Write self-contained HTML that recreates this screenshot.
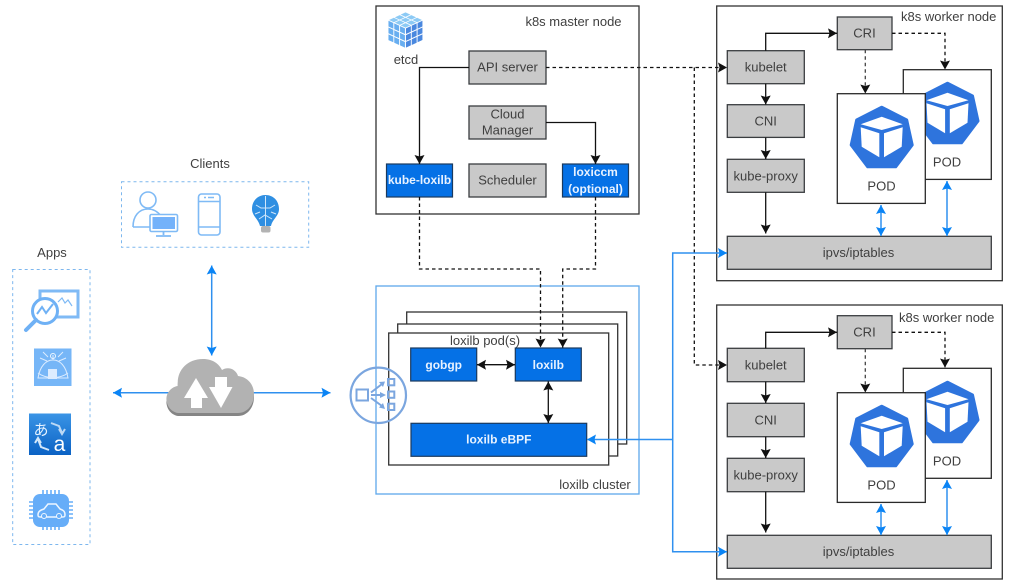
<!DOCTYPE html>
<html><head><meta charset="utf-8">
<style>
html,body{margin:0;padding:0;background:#fff;width:1011px;height:587px;overflow:hidden}
svg{display:block;filter:blur(.35px)}
text{font-family:"Liberation Sans","Noto Sans CJK JP",sans-serif;font-size:13px;fill:#3f3f3f;text-anchor:middle}
.g{fill:#c9c9c9;stroke:#3a3d40;stroke-width:1.3}
.b{fill:#0571e6;stroke:#1b3a5e;stroke-width:1.2}
.w{fill:#fff;stroke:#2a2a2a;stroke-width:1.3}
.n{fill:#fff;stroke:#333;stroke-width:1.3}
.wt{fill:#e8f2ff;font-weight:bold;font-size:12px}
.k{fill:none;stroke:#111;stroke-width:1.3}
.a{marker-end:url(#ak)}
.aa{marker-end:url(#ak);marker-start:url(#aks)}
.d{stroke-dasharray:3.500 3}
.bl{fill:none;stroke:#2f90ef;stroke-width:1.500}
.ba{marker-end:url(#ab)}
.baa{marker-end:url(#ab);marker-start:url(#abs)}
.ic{fill:none;stroke:#7fbaf5;stroke-width:1.6}
</style></head><body>
<svg width="1011" height="587" viewBox="0 0 1011 587" xmlns="http://www.w3.org/2000/svg">
<defs>
<marker id="ak" markerUnits="userSpaceOnUse" markerWidth="11" markerHeight="11" refX="9" refY="5" orient="auto"><path d="M9 5L0 10L1.500 5L0 0Z" fill="#111"/></marker>
<marker id="aks" markerUnits="userSpaceOnUse" markerWidth="11" markerHeight="11" refX="0" refY="5" orient="auto"><path d="M0 5L9 0L7.500 5L9 10Z" fill="#111"/></marker>
<marker id="ab" markerUnits="userSpaceOnUse" markerWidth="11" markerHeight="11" refX="9" refY="5" orient="auto"><path d="M9 5L0 10L1.500 5L0 0Z" fill="#0a84f5"/></marker>
<marker id="abs" markerUnits="userSpaceOnUse" markerWidth="11" markerHeight="11" refX="0" refY="5" orient="auto"><path d="M0 5L9 0L7.500 5L9 10Z" fill="#0a84f5"/></marker>
<g id="pod">
<path d="M0 3.200L25 16L30.500 41L14 62.800L-14 62.800L-30.500 41L-25 16Z" fill="#2e74dd" stroke="#2e74dd" stroke-width="3" stroke-linejoin="round"/>
<path d="M0 12.700L21 20.300L0 26L-21 20.300Z" fill="#fff"/>
<path d="M-21 23.300L-2.400 29.300V53.300L-20 42.700Z" fill="#fff"/>
<path d="M2.300 29.300L21 23.300L20 42.700L2.300 53.300Z" fill="#fff"/>
</g>
<g id="t">
<rect x=".08" y=".08" width=".84" height=".84"/><rect x="1.08" y=".08" width=".84" height=".84"/><rect x="2.08" y=".08" width=".84" height=".84"/>
<rect x=".08" y="1.08" width=".84" height=".84"/><rect x="1.08" y="1.08" width=".84" height=".84"/><rect x="2.08" y="1.08" width=".84" height=".84"/>
<rect x=".08" y="2.08" width=".84" height=".84"/><rect x="1.08" y="2.08" width=".84" height=".84"/><rect x="2.08" y="2.08" width=".84" height=".84"/>
</g>
<linearGradient id="tr" x1="0" y1="0" x2="0" y2="1"><stop offset="0" stop-color="#3a94e6"/><stop offset="1" stop-color="#0b62c4"/></linearGradient>
</defs>

<!-- Apps -->
<text x="52" y="257">Apps</text>
<rect x="12.700" y="269.500" width="77.300" height="275" fill="none" stroke="#7db7ee" stroke-dasharray="3 3"/>
<rect x="40" y="291" width="38" height="26" fill="#fff" stroke="#7fbaf5" stroke-width="3"/>
<circle cx="45" cy="311" r="12.500" fill="#fff" stroke="#6fb1f5" stroke-width="3"/>
<path d="M36 320L26 330" stroke="#6fb1f5" stroke-width="4" stroke-linecap="round"/>
<path d="M37 314L42 307L46 313L53 304" fill="none" stroke="#6fb1f5" stroke-width="2"/>
<path d="M58 302L62 298L65 303L68 300L72 306" fill="none" stroke="#7fbaf5" stroke-width="1.200"/>
<rect x="34" y="348.500" width="37.500" height="37.500" fill="#76b6f7"/>
<path d="M38 378C40 366 46 360 53 360C60 360 66 366 68 378Z" fill="none" stroke="#dcecff" stroke-width="1"/>
<path d="M38 373C46 379 60 379 68 373M53 360V355M40 358L47 361M66 358L59 361M43 352L48 357M63 352L58 357" fill="none" stroke="#dcecff" stroke-width="1"/>
<circle cx="53" cy="356" r="2.500" fill="none" stroke="#eef6ff"/>
<rect x="48" y="369" width="9" height="10" fill="#dcecff"/>
<rect x="29" y="413.500" width="42" height="41.500" fill="url(#tr)"/>
<text x="41" y="435" style="font-size:15px;fill:#e8f3ff">あ</text>
<text x="59.500" y="451" style="font-size:21px;fill:#fff">a</text>
<path d="M51 423L59 426L62 433M59 429L62 434L65 429" fill="none" stroke="#bcd9f5" stroke-width="2"/>
<path d="M49 450L41 447L38 439M35 443L38 438L41 443" fill="none" stroke="#d4e7fa" stroke-width="2"/>
<rect x="33" y="494" width="36" height="33" rx="7" fill="#66adf8"/>
<path d="M43 490V495M47 490V495M51 490V495M55 490V495M59 490V495M43 526V530M47 526V530M51 526V530M55 526V530M59 526V530M29 502H34M29 506H34M29 510H34M29 514H34M29 518H34M68 502H73M68 506H73M68 510H73M68 514H73M68 518H73" stroke="#66adf8" stroke-width="1.600"/>
<path d="M38 515C38 511 41 510 44 509L48 504H56L60 509C63 510 65 511 65 515C65 517 64 517 62 517H41C39 517 38 517 38 515Z" fill="none" stroke="#eef6ff" stroke-width="1.500"/>
<circle cx="44" cy="516" r="2.500" fill="#66adf8" stroke="#eef6ff"/><circle cx="59" cy="516" r="2.500" fill="#66adf8" stroke="#eef6ff"/>

<!-- Clients -->
<text x="210" y="168">Clients</text>
<rect x="121.500" y="181.800" width="187.200" height="65.500" fill="none" stroke="#7db7ee" stroke-dasharray="3 3"/>
<circle cx="148" cy="200" r="8" class="ic"/>
<path d="M133 227C133 216 139 209 148 209C154 209 158 212 161 216M133 227H150" class="ic"/>
<rect x="150" y="214.500" width="27.500" height="17" rx="1.500" fill="#fff" stroke="#7fbaf5" stroke-width="1.600"/>
<rect x="152.500" y="217" width="22.500" height="12" fill="#74b2fa"/>
<path d="M163.500 231.500V235M156 236H171" stroke="#7fbaf5" stroke-width="1.800"/>
<rect x="198.500" y="194" width="21.500" height="41" rx="3" class="ic"/>
<path d="M198.500 201.500H220M198.500 227H220" class="ic"/>
<path d="M204 197.500H206M208 197.500H214" stroke="#7fbaf5" stroke-width="1.500"/>
<path d="M265.500 195C257.500 195 252 201 252 209C252 216 258.500 219 260 226H271C272.500 219 279 216 279 209C279 201 273.500 195 265.500 195Z" fill="#2f8fe2"/>
<path d="M265.500 196V226M256 205L261 208H270L275 205M255 214L260 212M276 214L271 212M259 219L265 215L272 219" fill="none" stroke="#cfe6fb" stroke-width="1"/>
<rect x="261" y="226" width="9.500" height="6.500" rx="2" fill="#b3b3b3"/>

<!-- Cloud and arrows -->
<line x1="211.700" y1="265.500" x2="211.700" y2="355.500" class="bl baa"/>
<line x1="113" y1="392.700" x2="330.500" y2="392.700" class="bl baa"/>
<path transform="translate(0,3)" d="M178 413C168 411 165 401 167 395C169 389 175 386 178 386C176 372 186 359 203 359C213 359 219 364 222 370C228 366 236 369 238 376C248 377 254 385 254 394C254 405 247 413 238 413Z" fill="#858585"/>
<path d="M178 413C168 411 165 401 167 395C169 389 175 386 178 386C176 372 186 359 203 359C213 359 219 364 222 370C228 366 236 369 238 376C248 377 254 385 254 394C254 405 247 413 238 413Z" fill="#b2b2b2"/>
<path d="M196 378L208 398H202V408H191V398H184Z" fill="#fff"/>
<path d="M221 408L209 387H215V377H227V387H232.500Z" fill="#fff"/>

<!-- Master node -->
<rect x="376" y="6" width="263" height="208" class="n"/>
<text x="573.500" y="26">k8s master node</text>
<g transform="matrix(5.800,2.670,-5.800,2.670,405.500,12)" fill="#8ccaf5"><use href="#t"/></g>
<g transform="matrix(5.800,2.670,0,6.800,388,20)" fill="#68aef0"><use href="#t"/></g>
<g transform="matrix(5.800,-2.670,0,6.800,405.500,28)" fill="#4a88df"><use href="#t"/></g>
<text x="406" y="64">etcd</text>
<rect x="469" y="51" width="77" height="33" class="g"/><text x="507.500" y="71.500">API server</text>
<rect x="469" y="106" width="77" height="33" class="g"/><text x="507.500" y="118.500">Cloud</text><text x="507.500" y="134.500">Manager</text>
<rect x="469" y="164" width="77" height="33" class="g"/><text x="507.500" y="184.500">Scheduler</text>
<rect x="386.500" y="164" width="66" height="33" class="b"/><text x="419.500" y="184" class="wt">kube-loxilb</text>
<rect x="562.500" y="164" width="66" height="33" class="b"/><text x="595.500" y="176" class="wt">loxiccm</text><text x="595.500" y="193" class="wt">(optional)</text>
<path d="M469 67.500H419.500V164" class="k a"/>
<path d="M546 122.500H595.500V164" class="k a"/>

<!-- Cluster -->
<rect x="376" y="286" width="263" height="208" fill="#fff" stroke="#5ea8ec" stroke-width="1.300"/>
<text x="595" y="489">loxilb cluster</text>
<rect x="406.700" y="312" width="220" height="132" class="n"/>
<rect x="397.700" y="324" width="220" height="132" class="n"/>
<rect x="388.700" y="333" width="220" height="132" class="n"/>
<text x="485" y="345">loxilb pod(s)</text>
<rect x="410.700" y="348" width="66" height="33" class="b"/><text x="443.700" y="369" class="wt">gobgp</text>
<rect x="515.300" y="348" width="66" height="33" class="b"/><text x="548.300" y="369" class="wt">loxilb</text>
<rect x="411" y="423.300" width="175.700" height="33" class="b"/><text x="498.800" y="443.500" class="wt">loxilb eBPF</text>
<line x1="477" y1="364.700" x2="515" y2="364.700" class="k aa"/>
<line x1="548.300" y1="381.500" x2="548.300" y2="423" class="k aa"/>
<!-- LB icon -->
<circle cx="378.300" cy="395.300" r="27.700" fill="none" stroke="#7ba6df" stroke-width="2.200"/>
<g fill="none" stroke="#7ba6df" stroke-width="2">
<rect x="356.500" y="389.500" width="11.500" height="11"/>
<rect x="388" y="379" width="6.300" height="6.300"/><rect x="388" y="391.500" width="6.300" height="6.300"/><rect x="388" y="403.700" width="6.300" height="6.300"/>
<path d="M371 392.500L382 384M371 395H382M371 398L382 406"/>
</g>
<path d="M385 381.500L383 387L379 382ZM386 395L380 392V398ZM385 409L379 407.500L383 403Z" fill="#7ba6df"/>

<!-- Worker 1 -->
<rect x="716.700" y="6" width="285.600" height="274.700" class="n"/>
<text x="948.700" y="21">k8s worker node</text>
<rect x="903.300" y="69.700" width="88" height="109.700" class="w"/>
<use href="#pod" x="947.500" y="80"/>
<text x="947" y="166.500">POD</text>
<rect x="837.300" y="93.700" width="88" height="109.700" class="w"/>
<use href="#pod" x="881.700" y="104"/>
<text x="881.500" y="190.500">POD</text>
<rect x="837.300" y="17" width="54.700" height="32.700" class="g"/><text x="864.500" y="37.500">CRI</text>
<rect x="727.300" y="50.700" width="77" height="33" class="g"/><text x="765.700" y="71.500">kubelet</text>
<rect x="727.300" y="104.700" width="77" height="32.700" class="g"/><text x="765.700" y="125.500">CNI</text>
<rect x="727.300" y="159.300" width="77" height="33" class="g"/><text x="765.700" y="180.500">kube-proxy</text>
<rect x="727.300" y="236.300" width="264" height="33" class="g"/><text x="858.500" y="257">ipvs/iptables</text>
<path d="M765.700 50.700V33.300H837" class="k a"/>
<path d="M765.700 83.700V104.500" class="k a"/>
<path d="M765.700 137.500V159" class="k a"/>
<path d="M765.700 192.300V233.500" class="k a"/>
<path d="M892 33.300H945V69.500" class="k d a"/>
<path d="M865.300 49.700V93.500" class="k d a" style="stroke:#444"/>
<line x1="881" y1="205" x2="881" y2="236" class="bl baa"/>
<line x1="947" y1="181" x2="947" y2="236" class="bl baa"/>

<!-- Worker 2 -->
<rect x="716.700" y="305" width="285.600" height="274" class="n"/>
<text x="946.700" y="322">k8s worker node</text>
<rect x="903.300" y="368.300" width="88" height="110" class="w"/>
<use href="#pod" x="947.500" y="379"/>
<text x="947" y="465.500">POD</text>
<rect x="837.300" y="392.700" width="88" height="109.700" class="w"/>
<use href="#pod" x="881.700" y="403"/>
<text x="881.500" y="489.500">POD</text>
<rect x="837.300" y="315.700" width="54.700" height="33" class="g"/><text x="864.500" y="336.500">CRI</text>
<rect x="727.300" y="348.300" width="77" height="33.400" class="g"/><text x="765.700" y="369.500">kubelet</text>
<rect x="727.300" y="403.300" width="77" height="33.400" class="g"/><text x="765.700" y="424.500">CNI</text>
<rect x="727.300" y="458.300" width="77" height="33.400" class="g"/><text x="765.700" y="479.500">kube-proxy</text>
<rect x="727.300" y="535.300" width="264" height="33" class="g"/><text x="858.500" y="556">ipvs/iptables</text>
<path d="M765.700 348.300V332.300H837" class="k a"/>
<path d="M765.700 381.700V403" class="k a"/>
<path d="M765.700 436.700V458" class="k a"/>
<path d="M765.700 491.700V532.500" class="k a"/>
<path d="M892 332.300H945V367.500" class="k d a"/>
<path d="M865.300 348.700V392.500" class="k d a" style="stroke:#444"/>
<line x1="881" y1="504" x2="881" y2="535" class="bl baa"/>
<line x1="947" y1="480" x2="947" y2="535" class="bl baa"/>

<!-- Dashed connectors -->
<path d="M419.500 197V269H540.500V347.500" class="k d a"/>
<path d="M595.500 197V269H562.700V347.500" class="k d a"/>
<path d="M546 67.500H727" class="k d a"/>
<path d="M694.300 67.500V365H727" class="k d a"/>

<!-- Blue connectors -->
<path d="M672.700 439.500V253H727" class="bl ba"/>
<path d="M672.700 439.500V551.700H727" class="bl ba"/>
<path d="M672.700 439.500H587" class="bl ba"/>
</svg>
</body></html>
